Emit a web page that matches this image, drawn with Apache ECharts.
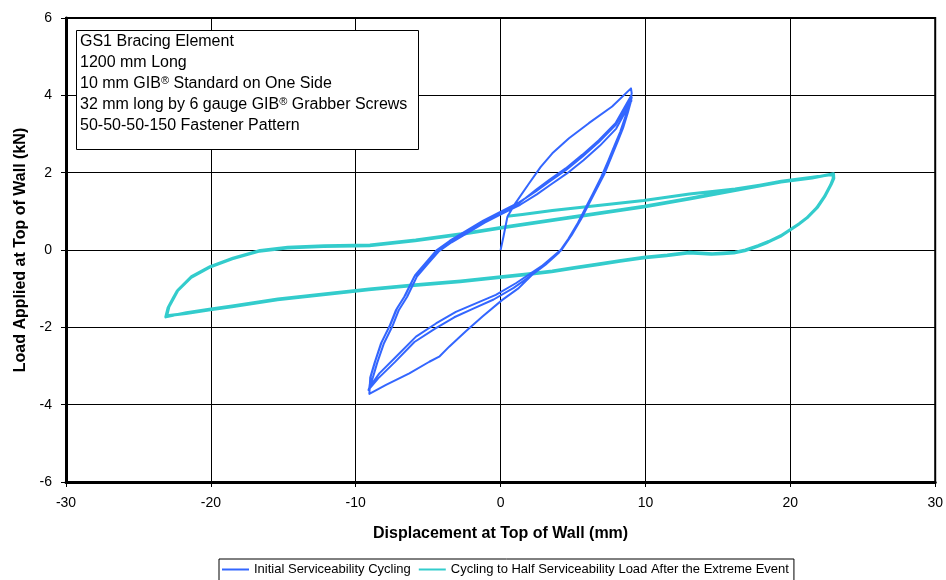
<!DOCTYPE html>
<html>
<head>
<meta charset="utf-8">
<script src="https://cdn.jsdelivr.net/npm/echarts@6/dist/echarts.min.js"></script>
<style>
html,body{margin:0;padding:0;background:#fff;}
#chart{width:946px;height:580px;}
</style>
</head>
<body>
<div id="chart"></div>
<script>
// ---- Data ----
const xTicks = [-30, -20, -10, 0, 10, 20, 30];
const yTicks = [-6, -4, -2, 0, 2, 4, 6];

const seriesNames = ['Initial Serviceability Cycling', 'Cycling to Half Serviceability Load After the Extreme Event'];

// Initial Serviceability Cycling: displacement (mm)
const blueDisp = [
  0, 0.2, 0.47, 0.93, 1.96, 2.77, 3.57, 4.72, 6.09, 7.70, 9.00,
  9.05, 8.85, 8.51, 8.16, 7.70, 7.24, 6.67, 6.09, 5.63, 4.95, 4.26, 3.34,
  2.42, 1.2, 0.12, -1.25, -2.4, -3.55, -4.24, -4.92, -6.30, -7.91, -9.06,
  -9.0, -8.71, -8.25, -7.68, -7.22, -6.65, -5.96, -5.15, -4.46, -3.55, -2.40, -1.25, 0.12, 1.27,
  2.42, 3.34, 4.49, 5.63, 6.78, 7.93, 9.03,
  9.0, 8.78, 8.45, 8.10, 7.64, 7.18, 6.60, 6.02, 5.56, 4.90, 4.20, 3.30,
  2.42, 1.05, -0.33, -1.71, -3.09, -4.46, -5.84, -7.22, -8.37, -9.06,
  -8.95, -8.66, -8.20, -7.62, -7.15, -6.58, -5.90, -5.10, -4.40, -3.50, -2.35, -1.20, 0.15, 1.30,
  2.45, 3.38, 4.52, 5.66, 6.80, 7.95, 9.05,
  8.95, 8.62, 8.25, 7.88, 7.42, 6.95, 6.38, 5.80, 5.33, 4.68, 4.00, 3.10,
  2.25, 0.90, -0.48, -1.85, -3.20, -4.55, -5.95, -7.30, -8.45, -9.12,
  -8.82, -8.52, -8.05, -7.48, -7.02, -6.45, -5.78, -4.98, -4.28, -3.38, -2.25, -1.10, 0.22, 1.35,
  2.50, 3.42, 4.58, 5.72, 6.86, 7.98, 9.06
];
// Initial Serviceability Cycling: load (kN)
const blueLoad = [
  0, 0.35, 0.86, 1.16, 1.72, 2.15, 2.50, 2.89, 3.28, 3.71, 4.18,
  4.05, 3.71, 3.28, 2.93, 2.50, 2.07, 1.64, 1.21, 0.86, 0.43, 0.04, -0.26,
  -0.55, -1.0, -1.29, -1.72, -2.10, -2.50, -2.76, -2.89, -3.19, -3.49, -3.72,
  -3.30, -2.93, -2.41, -1.98, -1.55, -1.21, -0.69, -0.34, -0.04, 0.21, 0.47, 0.73, 0.99, 1.21,
  1.55, 1.81, 2.11, 2.46, 2.84, 3.28, 4.00,
  3.85, 3.55, 3.15, 2.82, 2.40, 1.98, 1.56, 1.14, 0.80, 0.38, 0.00, -0.30,
  -0.52, -0.86, -1.16, -1.38, -1.60, -1.90, -2.24, -2.76, -3.19, -3.55,
  -3.25, -2.88, -2.37, -1.94, -1.51, -1.17, -0.65, -0.30, 0.00, 0.24, 0.50, 0.76, 1.02, 1.24,
  1.52, 1.77, 2.07, 2.42, 2.80, 3.24, 3.95,
  3.78, 3.46, 3.05, 2.72, 2.30, 1.89, 1.46, 1.04, 0.70, 0.29, -0.08, -0.38,
  -0.62, -0.98, -1.28, -1.51, -1.74, -2.04, -2.38, -2.90, -3.32, -3.62,
  -3.30, -2.92, -2.41, -1.98, -1.55, -1.21, -0.69, -0.34, -0.04, 0.20, 0.45, 0.71, 0.96, 1.17,
  1.44, 1.68, 1.98, 2.32, 2.70, 3.14, 3.88
];

// Cycling to Half Serviceability Load After the Extreme Event: displacement (mm)
const cyanDisp = [
  0.45, 1.5, 3.57, 6.72, 9.88, 13.04, 16.19, 19.35, 21.5, 22.98,
  23.0, 22.82, 22.4, 21.88, 21.2, 20.61, 19.35, 18.5, 17.77, 16.9, 16.19, 15.4, 14.61, 13.04, 11.5,
  9.88, 8.3, 6.72, 5.1, 3.57, 1.8, 0, -2.75, -5.90, -9.06, -12.22, -15.37, -18.53, -20.11, -21.69, -23.11,
  -22.95, -22.6, -22.32, -21.37, -20.11, -18.53, -16.64, -14.74, -12.22, -9.06, -5.90, -2.75,
  0.41, 3.57, 6.72, 9.88, 13.04, 16.19, 19.35, 21.5, 22.98,
  22.95, 22.78, 22.35, 21.82, 21.15, 20.55, 19.30, 18.45, 17.70, 16.85, 16.10, 15.35, 14.55, 13.00, 11.45,
  9.85, 8.25, 6.70, 5.05, 3.52, 1.75, -0.05, -2.80, -5.95, -9.10, -12.25, -15.40, -18.55, -20.15, -21.72, -23.05,
  -22.90, -22.55, -22.28, -21.33, -20.05, -18.48, -16.60, -14.70, -12.18, -9.02, -5.86, -2.70,
  0.45, 3.60, 6.75, 9.90, 13.07, 16.22, 19.38, 21.52, 23.0
];
// Cycling to Half Serviceability Load After the Extreme Event: load (kN)
const cyanLoad = [
  0.87, 0.92, 1.02, 1.15, 1.28, 1.45, 1.58, 1.76, 1.86, 1.97,
  1.85, 1.70, 1.40, 1.11, 0.85, 0.68, 0.37, 0.22, 0.11, 0.00, -0.06, -0.08, -0.10, -0.06, -0.13,
  -0.19, -0.27, -0.36, -0.45, -0.54, -0.62, -0.69, -0.80, -0.90, -1.01, -1.14, -1.27, -1.45, -1.53, -1.62, -1.73,
  -1.49, -1.25, -1.06, -0.71, -0.45, -0.23, -0.03, 0.05, 0.09, 0.11, 0.24, 0.40,
  0.59, 0.76, 0.94, 1.11, 1.32, 1.54, 1.76, 1.86, 1.97,
  1.84, 1.68, 1.38, 1.09, 0.83, 0.66, 0.35, 0.20, 0.09, -0.02, -0.08, -0.10, -0.11, -0.08, -0.15,
  -0.21, -0.29, -0.38, -0.47, -0.56, -0.64, -0.71, -0.82, -0.92, -1.03, -1.16, -1.29, -1.47, -1.55, -1.64, -1.70,
  -1.47, -1.23, -1.04, -0.69, -0.43, -0.21, -0.01, 0.07, 0.11, 0.13, 0.26, 0.42,
  0.61, 0.78, 0.96, 1.13, 1.34, 1.56, 1.78, 1.88, 1.96
];

const boxLines = [
  'GS1 Bracing Element',
  '1200 mm Long',
  '10 mm GIB{s|®} Standard on One Side',
  '32 mm long by 6 gauge GIB{s|®} Grabber Screws',
  '50-50-50-150 Fastener Pattern'
];

// ---- Build chart ----
function zip(a, b) { return a.map((v, i) => [v, b[i]]); }
const FONT = '"Liberation Sans", Arial, Helvetica, sans-serif';

const chart = echarts.init(document.getElementById('chart'), null, {renderer: 'canvas'});

const boxGraphics = [{
  type: 'rect', left: 76, top: 30, z: 100,
  shape: {width: 342, height: 119},
  style: {fill: '#fff', stroke: '#000', lineWidth: 1}
}];
boxLines.forEach((t, i) => {
  boxGraphics.push({
    type: 'text', left: 80, top: 33 + i * 21, z: 101,
    style: {
      text: t, fill: '#000', font: '16px ' + FONT, lineHeight: 18,
      rich: {s: {fontSize: 11, fontFamily: FONT, fill: '#000', verticalAlign: 'top', lineHeight: 18, padding: [0, 0, 10, 0]}}
    }
  });
});

const option = {
  backgroundColor: '#fff',
  animation: false,
  textStyle: {fontFamily: FONT},
  grid: {left: 66, right: 9, top: 18, bottom: 98, show: true, borderColor: '#000', borderWidth: 2, backgroundColor: 'transparent'},
  legend: {
    left: 219, top: 559,
    data: seriesNames,
    icon: 'rect', itemWidth: 27, itemHeight: 2, itemGap: 8,
    borderColor: '#000', borderWidth: 1, padding: [4, 5, 6, 3],
    textStyle: {fontSize: 13, color: '#000', fontFamily: FONT}
  },
  xAxis: {
    type: 'value', min: xTicks[0], max: xTicks[xTicks.length - 1], interval: 10,
    name: 'Displacement at Top of Wall (mm)', nameLocation: 'middle', nameGap: 44,
    nameTextStyle: {fontSize: 16, fontWeight: 'bold', color: '#000', fontFamily: FONT},
    axisLine: {show: true, onZero: false, lineStyle: {color: '#000', width: 3}},
    axisTick: {show: true, inside: false, length: 5, lineStyle: {color: '#000', width: 1}},
    axisLabel: {fontSize: 14, color: '#000', margin: 14, fontFamily: FONT},
    splitLine: {show: true, lineStyle: {color: '#000', width: 1}}
  },
  yAxis: {
    type: 'value', min: yTicks[0], max: yTicks[yTicks.length - 1], interval: 2,
    name: 'Load Applied at Top of Wall (kN)', nameLocation: 'middle', nameGap: 37, nameRotate: 90,
    nameTextStyle: {fontSize: 16, fontWeight: 'bold', color: '#000', fontFamily: FONT},
    axisLine: {show: true, onZero: false, lineStyle: {color: '#000', width: 3}},
    axisTick: {show: true, inside: false, length: 5, lineStyle: {color: '#000', width: 1}},
    axisLabel: {fontSize: 14, color: '#000', margin: 14, fontFamily: FONT},
    splitLine: {show: true, lineStyle: {color: '#000', width: 1}}
  },
  series: [
    {
      name: seriesNames[0], type: 'line', data: zip(blueDisp, blueLoad),
      showSymbol: false, symbol: 'none', smooth: false, z: 4,
      lineStyle: {color: '#3366ff', width: 2, join: 'round'}, itemStyle: {color: '#3366ff'}
    },
    {
      name: seriesNames[1], type: 'line', data: zip(cyanDisp, cyanLoad),
      showSymbol: false, symbol: 'none', smooth: false, z: 3,
      lineStyle: {color: '#33cccc', width: 3, join: 'round'}, itemStyle: {color: '#33cccc'}
    }
  ],
  graphic: boxGraphics
};
chart.setOption(option);
</script>
</body>
</html>
